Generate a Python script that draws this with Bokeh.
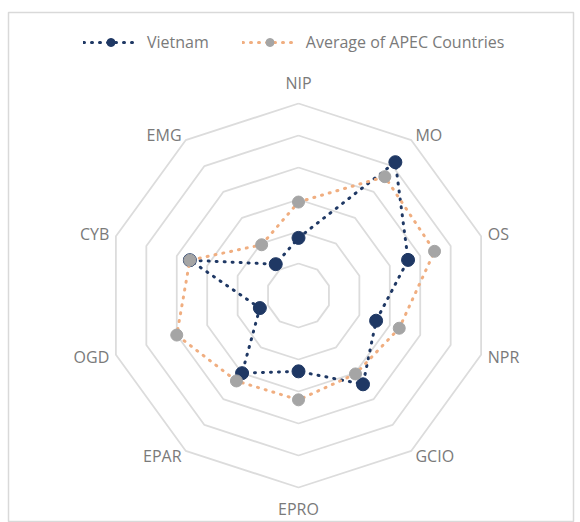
import math
from bokeh.plotting import figure
from bokeh.models import Legend, LegendItem, Range1d
from bokeh.core.properties import value
from bokeh.embed import file_html
from bokeh.resources import INLINE

# ---- data (radar rings 0..6) ----
categories = ["NIP", "MO", "OS", "NPR", "GCIO", "EPRO", "EPAR", "OGD", "CYB", "EMG"]
vietnam = [1.8, 5.15, 3.6, 2.55, 3.43, 2.37, 3.0, 1.27, 3.57, 1.21]
apec_avg = [2.92, 4.59, 4.47, 3.31, 3.03, 3.26, 3.3, 4.0, 3.57, 1.96]
ring_levels = [1, 2, 3, 4, 5, 6]
series_names = ["Vietnam", "Average of APEC Countries"]

FONT = "Open Sans"
TXT = "#7a7a7a"
n = len(categories)
angles = [2 * math.pi * i / n for i in range(n)]

p = figure(width=580, height=522, output_backend="svg", toolbar_location=None,
           x_range=Range1d(-290 / 32, 275 / 32), y_range=Range1d(-227 / 32, 283 / 32),
           min_border_left=8, min_border_right=7, min_border_top=12, min_border_bottom=0,
           background_fill_color="white", border_fill_color="white")
p.axis.visible = False
p.grid.visible = False
p.outline_line_color = "#d9d9d9"
p.outline_line_width = 1.5

# grid rings
for lev in ring_levels:
    xs = [lev * math.sin(a) for a in angles] + [0.0]
    ys = [lev * math.cos(a) for a in angles] + [lev]
    p.line(xs, ys, line_color="#dcdcdc", line_width=1.8)

def poly(vals):
    xs = [v * math.sin(a) for v, a in zip(vals, angles)]
    ys = [v * math.cos(a) for v, a in zip(vals, angles)]
    return xs, ys

vx, vy = poly(vietnam)
ax_, ay_ = poly(apec_avg)

l1 = p.line(vx + [vx[0]], vy + [vy[0]], line_color="#1f3864", line_width=3,
            line_dash="1 7", line_cap="round")
m1 = p.scatter(vx, vy, size=13, fill_color="#1f3864", line_color="#1f3864")
l2 = p.line(ax_ + [ax_[0]], ay_ + [ay_[0]], line_color="#f0ae80", line_width=3,
            line_dash="1 7", line_cap="round")
m2 = p.scatter(ax_, ay_, size=12, fill_color="#a5a5a5", line_color="#a5a5a5")

# category labels
R = ring_levels[-1]
for cat, a in zip(categories, angles):
    s, c = math.sin(a), math.cos(a)
    if abs(s) < 0.1:
        align = "center"
        rr = R + 10 / 32
        base = "bottom" if c > 0 else "top"
    else:
        align = "left" if s > 0 else "right"
        rr = R + 7 / 32
        base = "middle"
    p.text(x=[rr * s], y=[rr * c], text=[cat], text_font=value(FONT),
           text_font_size="16px", text_color=TXT, text_align=align,
           text_baseline=base)

legend = Legend(items=[LegendItem(label=series_names[0], renderers=[l1, m1]),
                       LegendItem(label=series_names[1], renderers=[l2, m2])],
                orientation="horizontal", location=(75, 469),
                glyph_width=55, glyph_height=20, label_height=20,
                label_standoff=9, spacing=33, padding=0, margin=0,
                border_line_color=None, background_fill_alpha=0,
                label_text_font=FONT, label_text_font_size="16px",
                label_text_color=TXT)
p.add_layout(legend)

open("out.html", "w").write(file_html(p, INLINE))
